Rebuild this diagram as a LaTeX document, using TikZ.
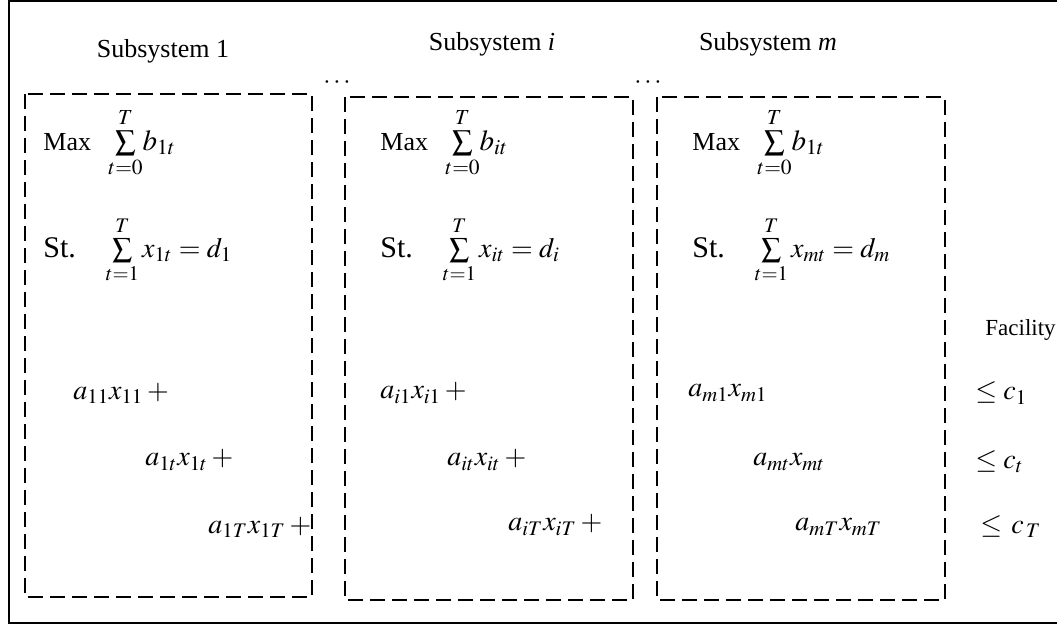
\documentclass[tikz,border=0pt]{standalone}
\usepackage{mathptmx}
\usepackage{fontspec}
\setmainfont{Liberation Serif}
\usetikzlibrary{positioning}

\providecommand{\subFrameWidth}{1pt}
\providecommand{\subBoxWidth}{1pt}
\providecommand{\mathbig}{\fontsize{14.5}{16}\selectfont}
\providecommand{\mathmid}{\fontsize{14}{16}\selectfont}

\begin{document}
\begin{tikzpicture}
% one unit is one pixel of the sketch, y runs downwards
\def\pxsz{0.5pt}
\begin{scope}[x=\pxsz, y=-\pxsz, line cap=butt, line join=miter,
  title/.style={font=\fontsize{13}{15}\selectfont, inner sep=0pt},
  maxrow/.style={font=\fontsize{13}{15}\selectfont, anchor=west, inner sep=0pt},
  strow/.style={font=\fontsize{15}{17}\selectfont, anchor=west, inner sep=0pt},
  term/.style={font=\fontsize{14}{16}\selectfont, anchor=west, inner sep=0pt},
  capacity/.style={font=\fontsize{14}{16}\selectfont, anchor=west, inner sep=0pt},
  subbox/.style={draw=black, line width=\subBoxWidth, dash pattern=on 7.5pt off 3.5pt}]
  \useasboundingbox (0,0) rectangle (1057,627);
  % Outer frame (runs past the right edge)
  \draw[line width=\subFrameWidth] (9,1) rectangle (1070,623);
  % Subsystem boxes
  \draw[subbox] (25,94) rectangle (312,597);
  \draw[subbox] (345,97) rectangle (633,600);
  \draw[subbox] (657,97) rectangle (945,600);
  % Titles and dots
  \node[title] (title1) at (163,51) {Subsystem 1};
  \node[title] (titlei) at (492,44) {Subsystem \textit{i}};
  \node[title] (titlem) at (768,44) {Subsystem \textit{m}};
  \node[title] (dotsa) at (337,83) {$\cdots$};
  \node[title] (dotsb) at (648,83) {$\cdots$};
  % Subsystem 1
  \node[maxrow] (max1) at (43,143) {Max\ \, {\mathbig$\sum\limits_{t=0}^{T}\! b_{1t}$}};
  \node[strow] (st1) at (43,250) {St.\quad {\mathmid$\sum\limits_{t=1}^{T} x_{1t} = d_1$}};
  \node[term] (a11) at (73,393) {$a_{11}x_{11} +{}$};
  \node[term] (a1t) at (145,460) {$a_{1t}x_{1t} +{}$};
  \node[term] (a1T) at (208,527) {$a_{1T}x_{1T} +{}$};
  % Subsystem i
  \node[maxrow] (maxi) at (380,143) {Max\ \, {\mathbig$\sum\limits_{t=0}^{T}\! b_{it}$}};
  \node[strow] (sti) at (380,250) {St.\quad {\mathmid$\sum\limits_{t=1}^{T} x_{it} = d_i$}};
  \node[term] (ai1) at (380,393) {$a_{i1}x_{i1} +{}$};
  \node[term] (ait) at (447,460) {$a_{it}x_{it} +{}$};
  \node[term] (aiT) at (508,525) {$a_{iT}x_{iT} +{}$};
  % Subsystem m
  \node[maxrow] (maxm) at (692,143) {Max\ \, {\mathbig$\sum\limits_{t=0}^{T}\! b_{1t}$}};
  \node[strow] (stm) at (692,250) {St.\quad {\mathmid$\sum\limits_{t=1}^{T} x_{mt} = d_m$}};
  \node[term] (am1) at (688,393) {$a_{m1}x_{m1}$};
  \node[term] (amt) at (753,462) {$a_{mt}x_{mt}$};
  \node[term] (amT) at (795,527) {$a_{mT}x_{mT}$};
  % Facility capacities
  \node[font=\fontsize{11.5}{13}\selectfont, inner sep=0pt, anchor=west] (fac) at (985,330) {Facility};
  \node[capacity] (c1) at (975,393) {$\leq c_1$};
  \node[capacity] (ct) at (975,462) {$\leq c_t$};
  \node[capacity] (cT) at (980,527) {$\leq\, c_{\,T}$};
\end{scope}
\end{tikzpicture}
\end{document}
